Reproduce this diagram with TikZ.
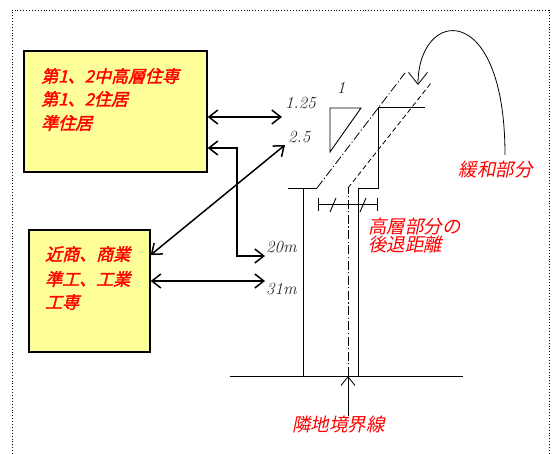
\documentclass[tikz,border=0pt]{standalone}
\usepackage{fontspec}
\usetikzlibrary{arrows.meta}
\newfontfamily\zonefont[FakeBold=2]{Noto Sans CJK JP}
\newfontfamily\notefont{Noto Sans CJK JP}
\definecolor{zonefill}{HTML}{FFFF99}
\begin{document}
\begin{tikzpicture}[x=1pt, y=-1pt,
  zone/.style={draw=black, line width=1.3pt, fill=zonefill, inner sep=0pt},
  zonetext/.style={anchor=base west, inner sep=0pt, text=red, xslant=0.25, transform shape, font=\zonefont\fontsize{17}{17}\selectfont},
  note/.style={text=red, inner sep=0pt, xslant=0.2, transform shape, font=\notefont\fontsize{18.5}{18}\selectfont},
  dim/.style={inner sep=0pt, text=black!85, font=\itshape\fontsize{17}{17}\selectfont},
  bigarrow/.style={line width=1.5pt, {Straight Barb[length=9pt,width=14pt]}-{Straight Barb[length=9pt,width=14pt]}},
  thinarrow/.style={line width=0.8pt, -{Straight Barb[length=9pt,width=14pt]}},
  wall/.style={line width=0.9pt},
  axis/.style={line width=0.8pt, dash pattern=on 9pt off 2.5pt on 1.2pt off 2.5pt},
  slope/.style={line width=0.8pt, dash pattern=on 5pt off 3pt}]
\useasboundingbox (0,0) rectangle (558,454);
\draw[dotted, line width=0.9pt] (12,454) -- (12,10) -- (549,10) -- (549,454);
\node[zone, minimum width=183pt, minimum height=121pt] (res) at (115.5,111.5) {};
\node[zonetext] (resa) at (41,82.5) {第1、2中高層住専};
\node[zonetext] (resb) at (41,105.5) {第1、2住居};
\node[zonetext] (resc) at (41,129.5) {準住居};
\node[zone, minimum width=121pt, minimum height=122pt] (ind) at (89.5,291) {};
\node[zonetext] (inda) at (45,260.5) {近商、商業};
\node[zonetext] (indb) at (45,285.5) {準工、工業};
\node[zonetext] (indc) at (45,308.5) {工専};
\coordinate (t125) at (282,117);
\coordinate (k20) at (237,148);
\coordinate (t20) at (265,256);
\coordinate (s25) at (0,255);
\coordinate (t25) at (285,145);
\coordinate (t31) at (265,281);
\draw[bigarrow] (res.east |- t125) to (t125);
\draw[bigarrow] (res.east |- k20) -- (k20) |- (t20);
\draw[bigarrow] (ind.east |- s25) to (t25);
\draw[bigarrow] (ind.east |- t31) to (t31);
\node[dim, anchor=west] (l125) at (285,103) {1.25};
\node[dim, anchor=west] (l25) at (288,137) {2.5};
\node[dim, anchor=west] (l20) at (266,247) {20m};
\node[dim, anchor=west] (l31) at (266,289) {31m};
\draw[wall] (230,376) -- (463,376);
\draw[wall] (288,188) -- (317,188);
\draw[wall] (303,188) -- (303,376);
\draw[wall] (358,376) -- (358,188) -- (378,188) -- (378,107) -- (425,107);
\draw[axis] (317,188) -- (405,73);
\draw[axis] (348,376) -- (348,188);
\draw[slope] (348,188) -- (431,83);
\draw[wall] (361,108) -- (330,108) -- (330,152) -- cycle;
\node[dim] (one) at (341,88) {1};
\draw[wall] (318,204) -- (377,204);
\draw[wall] (318,198) -- (318,211);
\draw[wall] (377,198) -- (377,211);
\draw[wall] (330,212) -- (336,198);
\draw[wall] (360,212) -- (366,198);
\node[note, anchor=base west] (setbacka) at (368,234) {高層部分の};
\node[note, anchor=base west] (setbackb) at (368,252) {後退距離};
\node[note] (ease) at (497,170) {緩和部分};
\node[note] (bl) at (340,425) {隣地境界線};
\coordinate (bnd) at (348,376);
\draw[thinarrow] (bnd |- bl.north) to (bnd);
\coordinate (c1) at (505,155);
\coordinate (c2) at (418,85);
\draw[line width=0.8pt, -{Straight Barb[length=12pt,width=19pt]}] (c1) .. controls (505,-2) and (418,8) .. (c2);
\end{tikzpicture}
\end{document}
